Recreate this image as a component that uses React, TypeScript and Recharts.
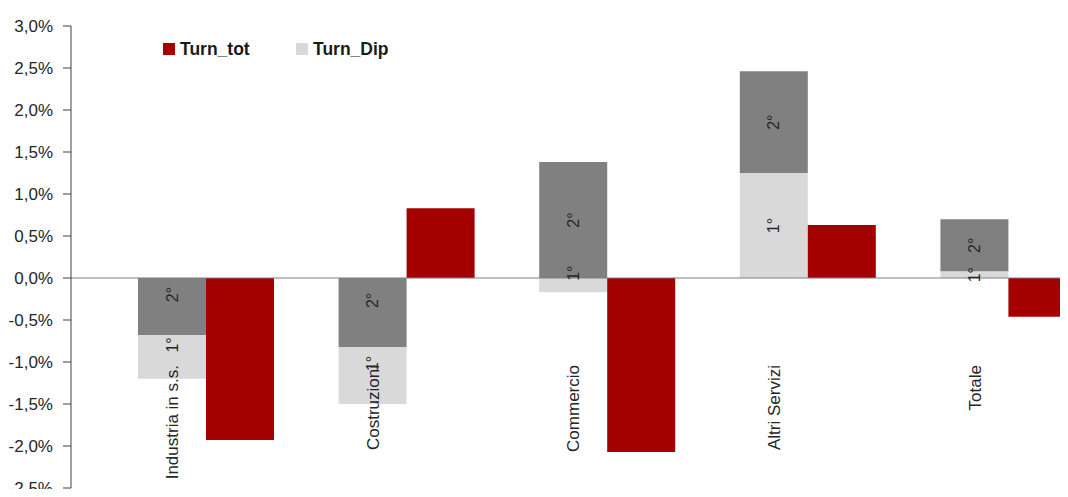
import React from 'react';
import { BarChart, Bar, XAxis, YAxis, ReferenceLine, Cell, LabelList } from 'recharts';

// Sectors on the category axis
const categories = ['Industria in s.s.', 'Costruzioni', 'Commercio', 'Altri Servizi', 'Totale'];
// Turn_tot (%)
const turnTot = [-1.93, 0.83, -2.07, 0.63, -0.46];
// Turn_Dip, 1° and 2° (%), each bar measured from zero
const turnDip1 = [-1.2, -1.5, -0.17, 1.25, 0.08];
const turnDip2 = [-0.68, -0.82, 1.38, 2.46, 0.7];
const dipLabels = ['1°', '2°'];
// Value axis ticks (%)
const yTicks = [-2.5, -2, -1.5, -1, -0.5, 0, 0.5, 1, 1.5, 2, 2.5, 3];

const RED = '#a50000';
const DIP_FILLS = ['#d9d9d9', '#808080'];
const TEXT = '#262626';
const FONT = '"Liberation Sans", Arial, sans-serif';
const BAR_W = 68;

// The two Turn_Dip bars overlap, the shorter one in front: split them into
// a "near" segment (from zero) and a "far" segment stacked on it.
const rows = categories.map((name, i) => {
  const vals = [turnDip1[i], turnDip2[i]];
  let nearIdx = 0;
  let farIdx = 1;
  if (vals[0] * vals[1] > 0 && Math.abs(vals[1]) < Math.abs(vals[0])) {
    nearIdx = 1;
    farIdx = 0;
  }
  const sameSide = vals[0] * vals[1] > 0;
  const near = vals[nearIdx];
  const far = sameSide ? vals[farIdx] - vals[nearIdx] : vals[farIdx];
  return { name, tot: turnTot[i], near, far, nearIdx, farIdx };
});

const legendItems = [
  { label: 'Turn_tot', color: RED, left: 155 },
  { label: 'Turn_Dip', color: DIP_FILLS[0], left: 288 },
];

const fmtPct = (v: number) => v.toFixed(1).replace('.', ',') + '%';

const makeDipLabel = (which: 'nearIdx' | 'farIdx') => (props: any) => {
  const vb = props.viewBox || {};
  const x = Number(props.x ?? vb.x);
  const y = Number(props.y ?? vb.y);
  const w = Number(props.width ?? vb.width);
  const h = Number(props.height ?? vb.height);
  const idx = props.index;
  if (idx == null || !rows[idx]) return null;
  const v = Number(props.value);
  if (!v) return null;
  const cx = x + w / 2;
  const cy = y + h / 2 + (v < 0 ? -12 : 0);
  return (
    <text
      x={cx}
      y={cy}
      transform={`rotate(-90 ${cx} ${cy})`}
      textAnchor="middle"
      dy="0.35em"
      fontSize={16}
      fontFamily={FONT}
      fill={TEXT}
    >
      {dipLabels[rows[idx][which]]}
    </text>
  );
};

const CategoryTick = (props: any) => {
  const { x, y, payload } = props;
  const px = x - BAR_W / 2;
  const py = y - 123;
  return (
    <text
      x={px}
      y={py}
      transform={`rotate(-90 ${px} ${py})`}
      textAnchor="end"
      dy="0.35em"
      fontSize={17}
      fontFamily={FONT}
      fill={TEXT}
    >
      {payload.value}
    </text>
  );
};

export default function App() {
  return (
    <div
      style={{
        position: 'relative',
        width: 1060,
        height: 489,
        marginBottom: -8,
        overflow: 'hidden',
        fontFamily: FONT,
      }}
    >
      <BarChart
        width={1101}
        height={489}
        data={rows}
        stackOffset="sign"
        barGap={0}
        margin={{ top: 18, right: 0, bottom: 8, left: 0 }}
      >
        <XAxis
          dataKey="name"
          height={1}
          axisLine={false}
          tickLine={false}
          tickSize={0}
          tickMargin={0}
          padding={{ left: 35, right: 0 }}
          interval={0}
          tick={<CategoryTick />}
        />
        <YAxis
          width={63}
          domain={[-2.5, 3]}
          ticks={yTicks}
          interval={0}
          tickFormatter={fmtPct}
          tick={{ fontSize: 17, fill: TEXT, fontFamily: FONT }}
          axisLine={{ stroke: '#404040' }}
          tickLine={{ stroke: '#404040' }}
          tickSize={8}
          tickMargin={10}
        />
        <Bar dataKey="near" stackId="dip" barSize={BAR_W} isAnimationActive={false}>
          {rows.map((r, i) => (
            <Cell key={`n${i}`} fill={DIP_FILLS[r.nearIdx]} />
          ))}
          <LabelList dataKey="near" content={makeDipLabel('nearIdx')} />
        </Bar>
        <Bar dataKey="far" stackId="dip" barSize={BAR_W} isAnimationActive={false}>
          {rows.map((r, i) => (
            <Cell key={`f${i}`} fill={DIP_FILLS[r.farIdx]} />
          ))}
          <LabelList dataKey="far" content={makeDipLabel('farIdx')} />
        </Bar>
        <Bar dataKey="tot" fill={RED} barSize={BAR_W} isAnimationActive={false} />
        <ReferenceLine y={0} stroke="#7f7f7f" strokeWidth={1} />
      </BarChart>
      {legendItems.map((it) => (
        <div
          key={it.label}
          style={{
            position: 'absolute',
            top: 31,
            left: it.left,
            height: 20,
            display: 'flex',
            alignItems: 'center',
          }}
        >
          <span style={{ width: 12, height: 12, background: it.color, display: 'inline-block' }} />
          <span style={{ marginLeft: 5, fontSize: 17.5, fontWeight: 700, lineHeight: '20px', color: '#1a1a1a' }}>
            {it.label}
          </span>
        </div>
      ))}
    </div>
  );
}
